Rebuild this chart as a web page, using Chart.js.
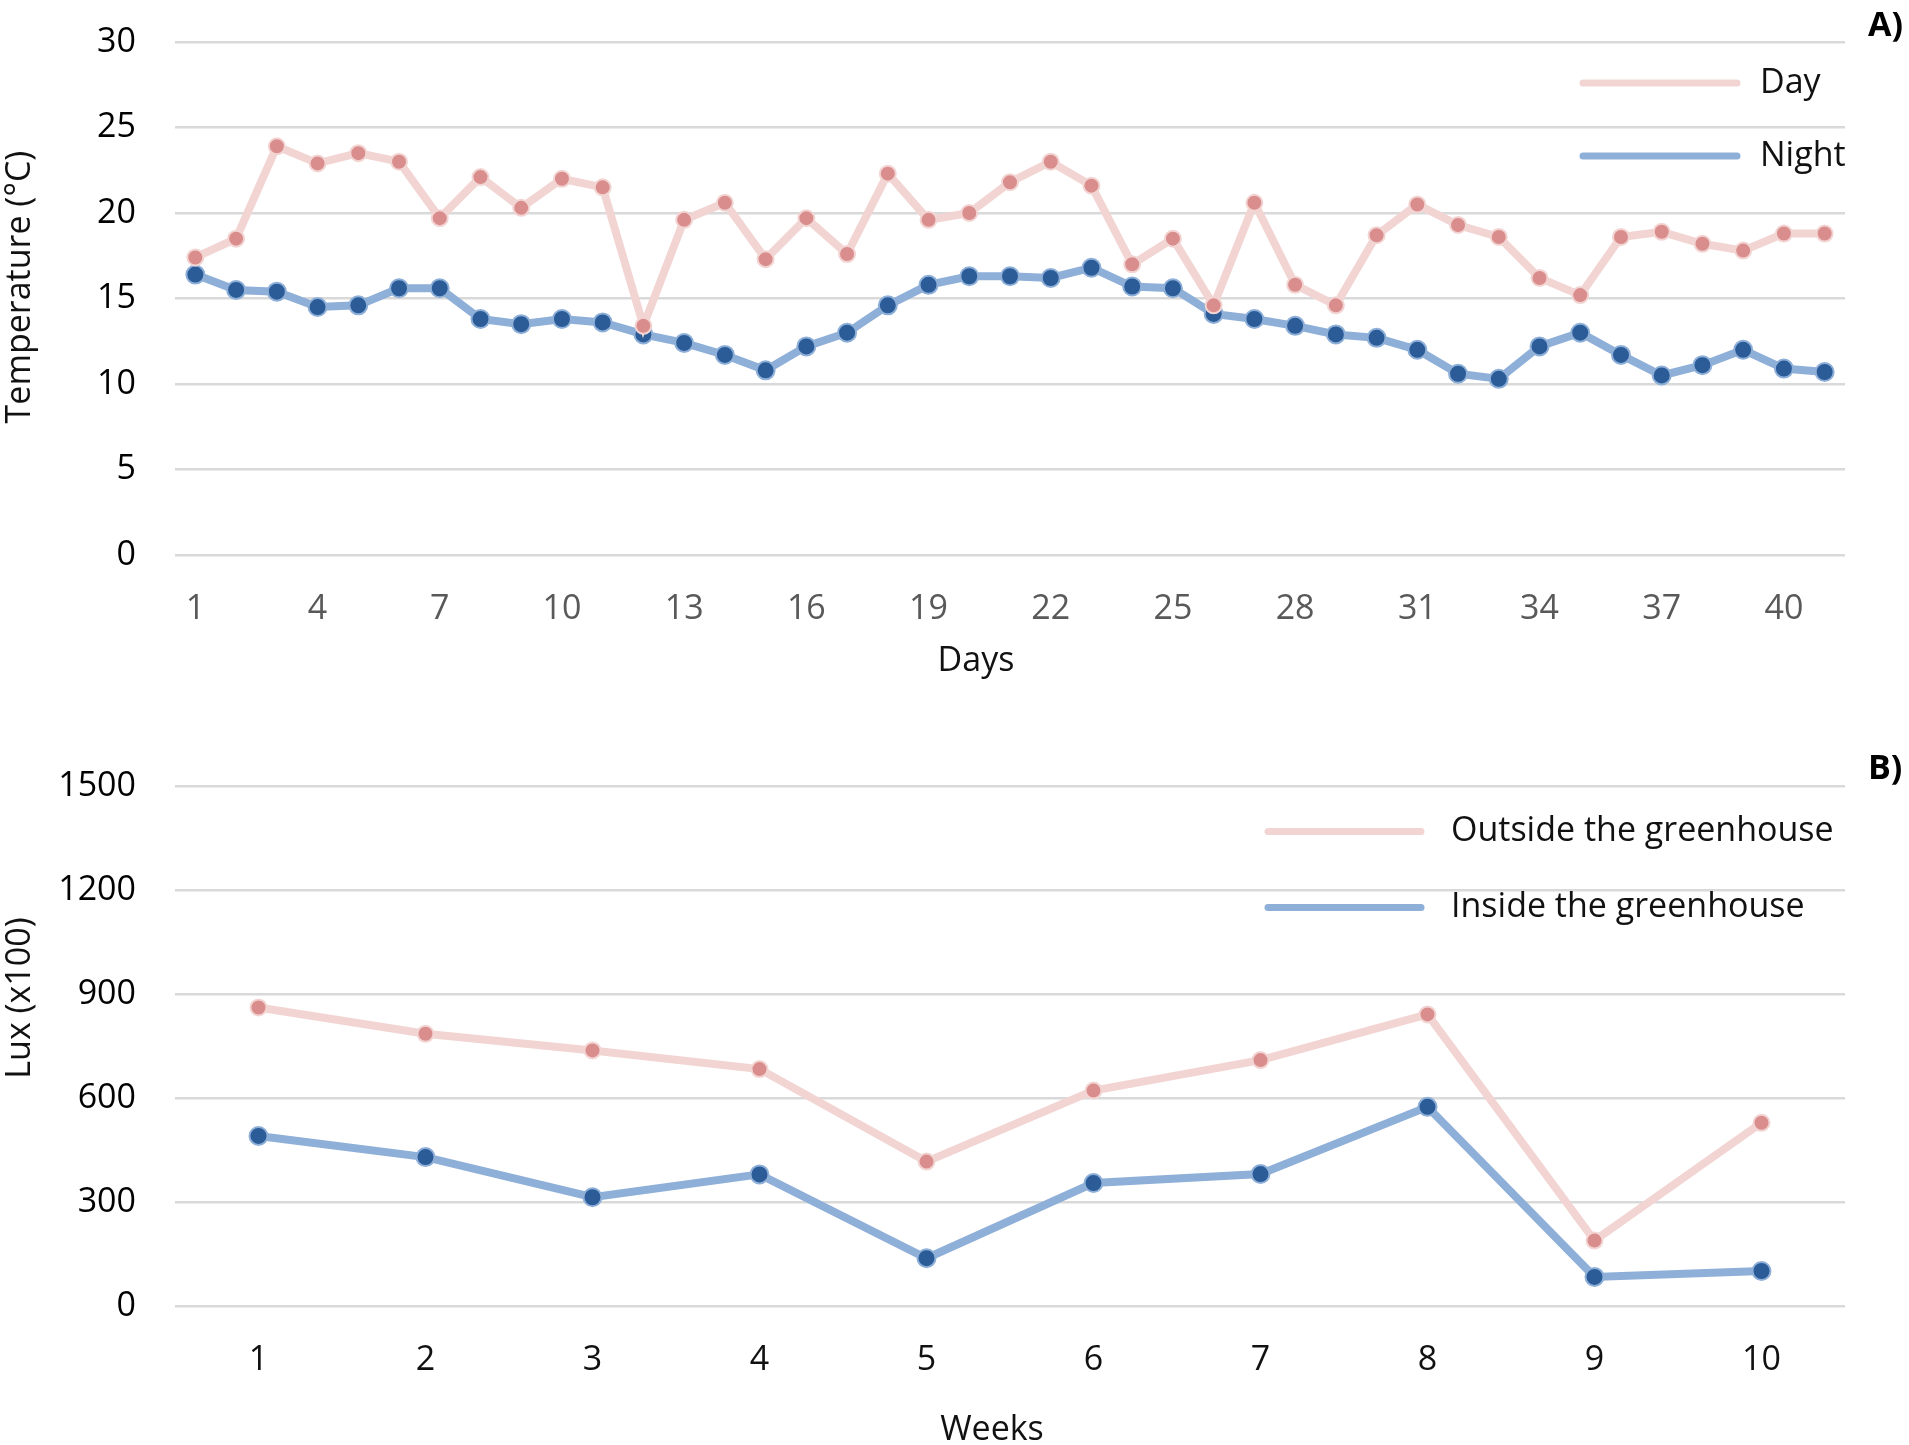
<!DOCTYPE html>
<html>
<head>
<meta charset="utf-8">
<title>Greenhouse temperature and light</title>
<script src="https://cdn.jsdelivr.net/npm/chart.js@4.4.1/dist/chart.umd.min.js"></script>
<style>
  html, body { margin: 0; padding: 0; background: #fff; overflow: hidden; }
  #page { position: relative; width: 1909px; height: 1445px; }
  canvas { position: absolute; left: 0; }
  #tempChart { top: 0; }
  #luxChart { top: 700px; }
  .panel-tag { position: absolute; left: 1868px; font: bold 34px "Open Sans", sans-serif; color: #000; line-height: 1; }
</style>
</head>
<body>
<div id="page">
  <canvas id="tempChart" width="1909" height="700"></canvas>
  <canvas id="luxChart" width="1909" height="760"></canvas>
  <div class="panel-tag" style="top: 6px;">A)</div>
  <div class="panel-tag" style="top: 749px;">B)</div>
</div>
<script>
// panel A: daily temperature
const days = ["1", "2", "3", "4", "5", "6", "7", "8", "9", "10", "11", "12", "13", "14",
  "15", "16", "17", "18", "19", "20", "21", "22", "23", "24", "25", "26", "27", "28",
  "29", "30", "31", "32", "33", "34", "35", "36", "37", "38", "39", "40", "41"];
const dayTemp = [17.4, 18.5, 23.9, 22.9, 23.5, 23.0, 19.7, 22.1, 20.3, 22.0, 21.5, 13.4, 19.6, 20.6,
  17.3, 19.7, 17.6, 22.3, 19.6, 20.0, 21.8, 23.0, 21.6, 17.0, 18.5, 14.6, 20.6, 15.8,
  14.6, 18.7, 20.5, 19.3, 18.6, 16.2, 15.2, 18.6, 18.9, 18.2, 17.8, 18.8, 18.8];
const nightTemp = [16.4, 15.5, 15.4, 14.5, 14.6, 15.6, 15.6, 13.8, 13.5, 13.8, 13.6, 12.9, 12.4, 11.7,
  10.8, 12.2, 13.0, 14.6, 15.8, 16.3, 16.3, 16.2, 16.8, 15.7, 15.6, 14.1, 13.8, 13.4,
  12.9, 12.7, 12.0, 10.6, 10.3, 12.2, 13.0, 11.7, 10.5, 11.1, 12.0, 10.9, 10.7];

// panel B: weekly light
const weeks = ["1", "2", "3", "4", "5", "6", "7", "8", "9", "10"];
const luxOutside = [862, 786, 738, 684, 417, 622, 710, 842, 189, 529];
const luxInside = [491, 430, 314, 380, 138, 355, 381, 575, 84, 101];

Chart.defaults.font.family = '"Open Sans", sans-serif';
Chart.defaults.font.size = 34;
Chart.defaults.color = "#111";

const pink = { line: "#f2d5d3", point: "#d98d8d" };
const blue = { line: "#8eafd8", point: "#2b5c97" };

function series(label, data, c, radius) {
  return {
    label: label,
    data: data,
    borderColor: c.line,
    borderWidth: 8,
    pointBackgroundColor: c.point,
    pointBorderColor: c.line,
    pointBorderWidth: 2,
    pointRadius: radius,
    tension: 0
  };
}

// legend drawn inside the plot area, lines only
const lineLegend = {
  id: "lineLegend",
  afterDraw(chart, args, opts) {
    const ctx = chart.ctx;
    ctx.save();
    chart.data.datasets.forEach((ds, i) => {
      const y = opts.y + i * opts.dy;
      ctx.strokeStyle = ds.borderColor;
      ctx.lineWidth = 7;
      ctx.lineCap = "round";
      ctx.beginPath();
      ctx.moveTo(opts.x, y);
      ctx.lineTo(opts.x + opts.len, y);
      ctx.stroke();
      ctx.fillStyle = "#111";
      ctx.font = '34px "Open Sans", sans-serif';
      ctx.textBaseline = "middle";
      ctx.fillText(ds.label, opts.x + opts.len + opts.gap, y);
    });
    ctx.restore();
  }
};

// axis titles placed where the original figure has them
const axisTitles = {
  id: "axisTitles",
  afterDraw(chart, args, opts) {
    const ctx = chart.ctx;
    ctx.save();
    ctx.fillStyle = "#111";
    ctx.font = '34px "Open Sans", sans-serif';
    ctx.textAlign = "center";
    ctx.textBaseline = "middle";
    ctx.fillText(opts.x.text, opts.x.cx, opts.x.cy);
    ctx.translate(opts.y.cx, opts.y.cy);
    ctx.rotate(-Math.PI / 2);
    ctx.fillText(opts.y.text, 0, 0);
    ctx.restore();
  }
};

function baseOptions(cfg) {
  return {
    responsive: false,
    devicePixelRatio: 1,
    animation: false,
    layout: { padding: { left: 0, right: 64, top: cfg.top, bottom: cfg.bottom } },
    plugins: {
      legend: { display: false },
      tooltip: { enabled: false },
      lineLegend: cfg.legend,
      axisTitles: cfg.titles
    },
    scales: {
      x: {
        offset: true,
        grid: { display: false },
        border: { display: false },
        ticks: {
          color: cfg.xTickColor,
          padding: 26,
          autoSkip: false,
          maxRotation: 0,
          callback: function (v, i) { return i % cfg.every === 0 ? this.getLabelForValue(v) : ""; }
        },
        afterFit: (s) => { s.height = cfg.xHeight; }
      },
      y: {
        min: 0,
        max: cfg.yMax,
        border: { display: false },
        // invisible tick marks give the label gap without padding the plot top
        grid: { color: "#d9d9d9", lineWidth: 2.5, drawTicks: true, tickLength: 39, tickColor: "rgba(0,0,0,0)" },
        ticks: { stepSize: cfg.step, padding: 0, color: "#000", callback: (v) => String(v) },
        afterFit: (s) => { s.width = 175; }
      }
    }
  };
}

new Chart(document.getElementById("tempChart"), {
  type: "line",
  data: {
    labels: days,
    datasets: [series("Day", dayTemp, pink, 8), series("Night", nightTemp, blue, 9)]
  },
  options: baseOptions({
    top: 42, bottom: 18.6, xHeight: 126.4, every: 3, xTickColor: "#595959",
    yMax: 30, step: 5,
    legend: { x: 1583, y: 83, dy: 73, len: 154, gap: 23 },
    titles: { x: { text: "Days", cx: 976, cy: 661 }, y: { text: "Temperature (°C)", cx: 20, cy: 287 } }
  }),
  plugins: [lineLegend, axisTitles]
});

new Chart(document.getElementById("luxChart"), {
  type: "line",
  data: {
    labels: weeks,
    datasets: [
      series("Outside the greenhouse", luxOutside, pink, 8),
      series("Inside the greenhouse", luxInside, blue, 9)
    ]
  },
  options: baseOptions({
    top: 86.5, bottom: 9.6, xHeight: 144.4, every: 1, xTickColor: "#111",
    yMax: 1500, step: 300,
    legend: { x: 1268, y: 131.6, dy: 76, len: 153, gap: 30 },
    titles: { x: { text: "Weeks", cx: 992, cy: 730 }, y: { text: "Lux (x100)", cx: 20, cy: 298 } }
  }),
  plugins: [lineLegend, axisTitles]
});
</script>
</body>
</html>
